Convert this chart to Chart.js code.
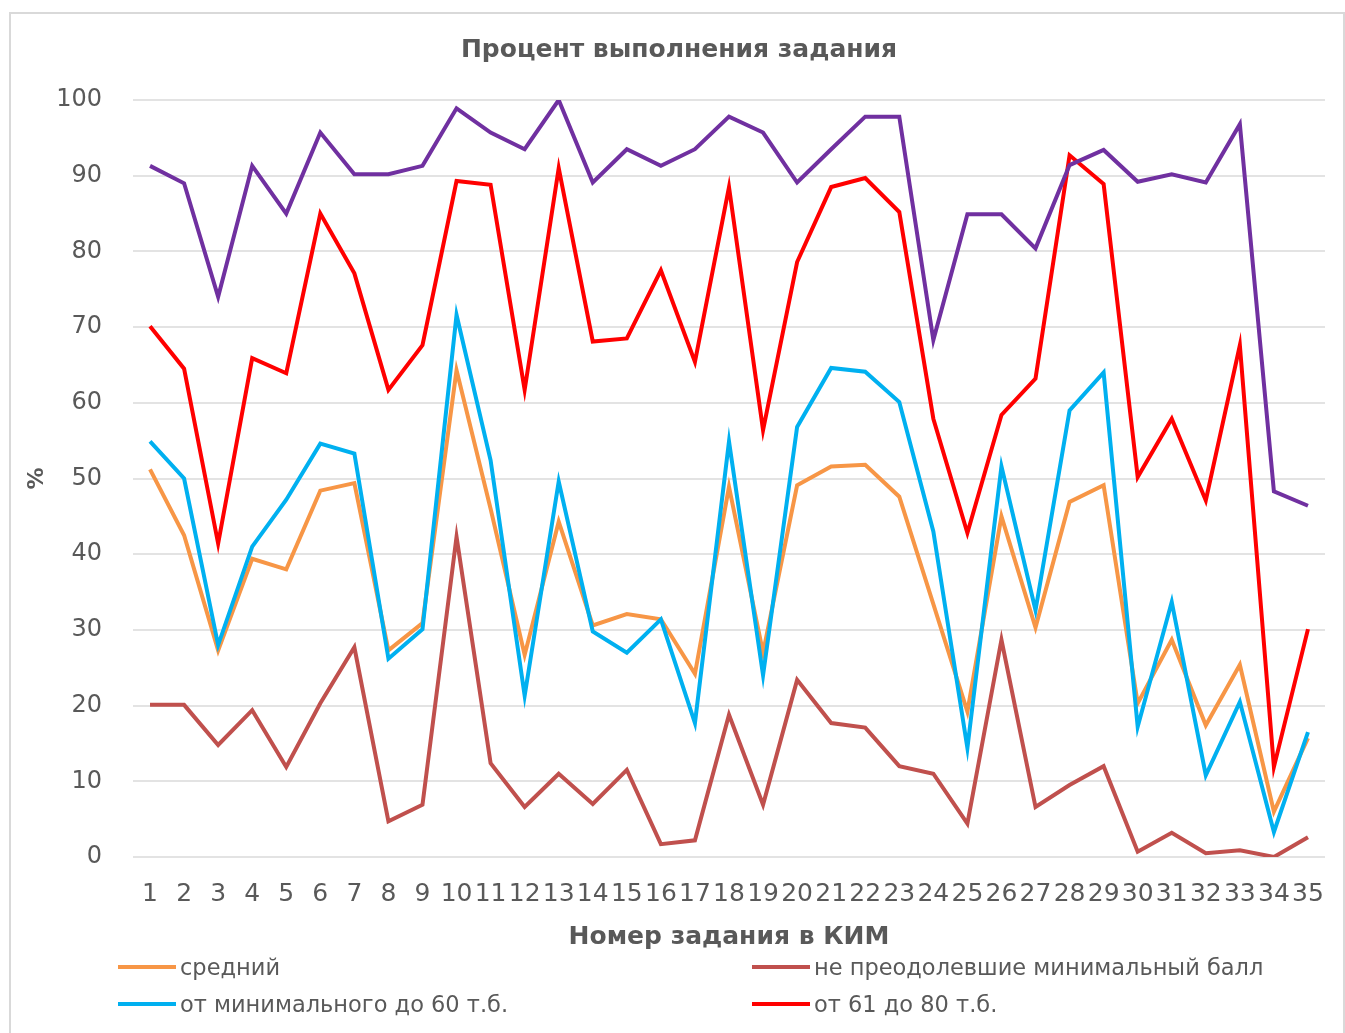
<!DOCTYPE html>
<html>
<head>
<meta charset="utf-8">
<script src="https://cdn.jsdelivr.net/npm/chart.js@4.4.0/dist/chart.umd.min.js"></script>
<style>
  body { margin: 0; background: #fff; width: 1345px; height: 1033px; overflow: hidden; position: relative; font-family: "DejaVu Sans", sans-serif; }
  #frame { position: absolute; left: 9px; top: 12px; width: 1332px; height: 1040px; border: 2px solid #d9d9d9; border-bottom: none; }
  #wrap { position: absolute; left: 0; top: 0; width: 1345px; height: 952px; }
  #legend { position: absolute; left: 118px; top: 948px; display: grid; grid-template-columns: 634px auto; row-gap: 0; }
  .item { display: flex; align-items: center; height: 37px; font-size: 22.5px; color: #595959; white-space: nowrap; }
  .item i { display: inline-block; width: 58px; height: 4px; margin-right: 4px; }
</style>
</head>
<body>
<div id="frame"></div>
<div id="wrap"><canvas id="chart"></canvas></div>
<div id="legend"></div>
<script>
// номера заданий КИМ
const zadaniya = ['1','2','3','4','5','6','7','8','9','10','11','12','13','14','15','16','17','18','19','20',
  '21','22','23','24','25','26','27','28','29','30','31','32','33','34','35'];

const sredniy = [51.2, 42.5, 27.3, 39.4, 38, 48.4, 49.4, 27.3, 30.9, 64.3, 46, 26.7, 44.3, 30.6, 32.1, 31.4, 24.2, 48.9, 27, 49.1,
  51.6, 51.8, 47.6, 33.4, 19.2, 45, 30.3, 46.9, 49.1, 20.3, 28.7, 17.4, 25.4, 6, 15.7];
const nePreodolevshie = [20.1, 20.1, 14.8, 19.4, 11.9, 20.3, 27.7, 4.7, 6.9, 42.3, 12.4, 6.6, 11, 7, 11.5, 1.7, 2.2, 18.8, 6.9, 23.4,
  17.7, 17.1, 12, 11, 4.4, 28.7, 6.6, 9.5, 12, 0.7, 3.2, 0.5, 0.9, 0, 2.6];
const doShestidesyati = [54.9, 50, 28, 41, 47.2, 54.6, 53.3, 26.2, 30.1, 71.6, 52.4, 21.3, 49.6, 29.8, 27, 31.4, 17.7, 54.9, 24, 56.8,
  64.6, 64.1, 60.1, 43, 14.4, 51.6, 32.6, 59, 64, 17.2, 33.7, 10.8, 20.5, 3.3, 16.5];
const ot61do80 = [70.1, 64.5, 41.4, 65.9, 63.9, 85, 77.1, 61.7, 67.6, 89.3, 88.8, 61.7, 91, 68.1, 68.5, 77.5, 65.4, 88.5, 56.4, 78.6,
  88.5, 89.7, 85.2, 57.9, 42.8, 58.4, 63.2, 92.7, 88.9, 50.2, 57.9, 47.1, 67.6, 11.9, 30.1];
const ot81do100 = [91.3, 89, 74, 91.3, 85, 95.7, 90.2, 90.2, 91.3, 98.9, 95.7, 93.5, 100, 89.1, 93.5, 91.3, 93.5, 97.8, 95.7, 89.1,
  93.5, 97.8, 97.8, 68.3, 84.9, 84.9, 80.4, 91.4, 93.4, 89.2, 90.2, 89.1, 96.8, 48.3, 46.4];

const gray = '#595959';

// первый набор рисуется сверху, поэтому порядок обратный
const datasets = [
  { label: 'от 81 до 100 т.б.', data: ot81do100, borderColor: '#7030A0', inLegend: false },
  { label: 'от 61 до 80 т.б.', data: ot61do80, borderColor: '#FF0000', inLegend: true },
  { label: 'от минимального до 60 т.б.', data: doShestidesyati, borderColor: '#00B0F0', inLegend: true },
  { label: 'не преодолевшие минимальный балл', data: nePreodolevshie, borderColor: '#C0504D', inLegend: true },
  { label: 'средний', data: sredniy, borderColor: '#F79646', inLegend: true }
].map(d => Object.assign(d, { borderWidth: 4, pointRadius: 0, tension: 0, fill: false }));

new Chart(document.getElementById('chart'), {
  type: 'line',
  data: { labels: zadaniya, datasets: datasets },
  options: {
    responsive: true,
    maintainAspectRatio: false,
    animation: false,
    layout: { padding: { top: 35, right: 20, left: 33, bottom: 0 } },
    plugins: {
      legend: { display: false },
      tooltip: { enabled: false },
      title: {
        display: true,
        text: 'Процент выполнения задания',
        color: gray,
        font: { family: 'DejaVu Sans', size: 25, weight: 'bold' },
        padding: { top: 0, bottom: 35 }
      }
    },
    scales: {
      x: {
        offset: true,
        grid: { display: false },
        border: { display: false },
        ticks: {
          color: gray, autoSkip: false, maxRotation: 0, minRotation: 0, padding: 14,
          font: { family: 'DejaVu Sans', size: 25 }
        },
        title: {
          display: true, text: 'Номер задания в КИМ', color: gray,
          font: { family: 'DejaVu Sans', size: 25, weight: 'bold' },
          padding: { top: 0, bottom: 0 }
        },
        afterFit: s => { s.height = 95; }
      },
      y: {
        min: 0, max: 100,
        grid: { color: '#e3e3e3', lineWidth: 2, drawTicks: false },
        border: { display: false },
        ticks: { stepSize: 10, color: gray, padding: 31, font: { family: 'DejaVu Sans', size: 24 } },
        title: {
          display: true, text: '%', color: gray,
          font: { family: 'DejaVu Sans', size: 22, weight: 'bold' },
          padding: { top: -9, bottom: 0 }
        },
        afterFit: s => { s.width = 100; }
      }
    }
  }
});

// легенда: два столбца, как в исходной диаграмме
const legendOrder = [4, 3, 2, 1];
const legendBox = document.getElementById('legend');
legendOrder.forEach(i => {
  const d = datasets[i];
  if (!d.inLegend) return;
  const el = document.createElement('div');
  el.className = 'item';
  el.innerHTML = '<i style="background:' + d.borderColor + '"></i>' + d.label;
  legendBox.appendChild(el);
});
</script>
</body>
</html>
